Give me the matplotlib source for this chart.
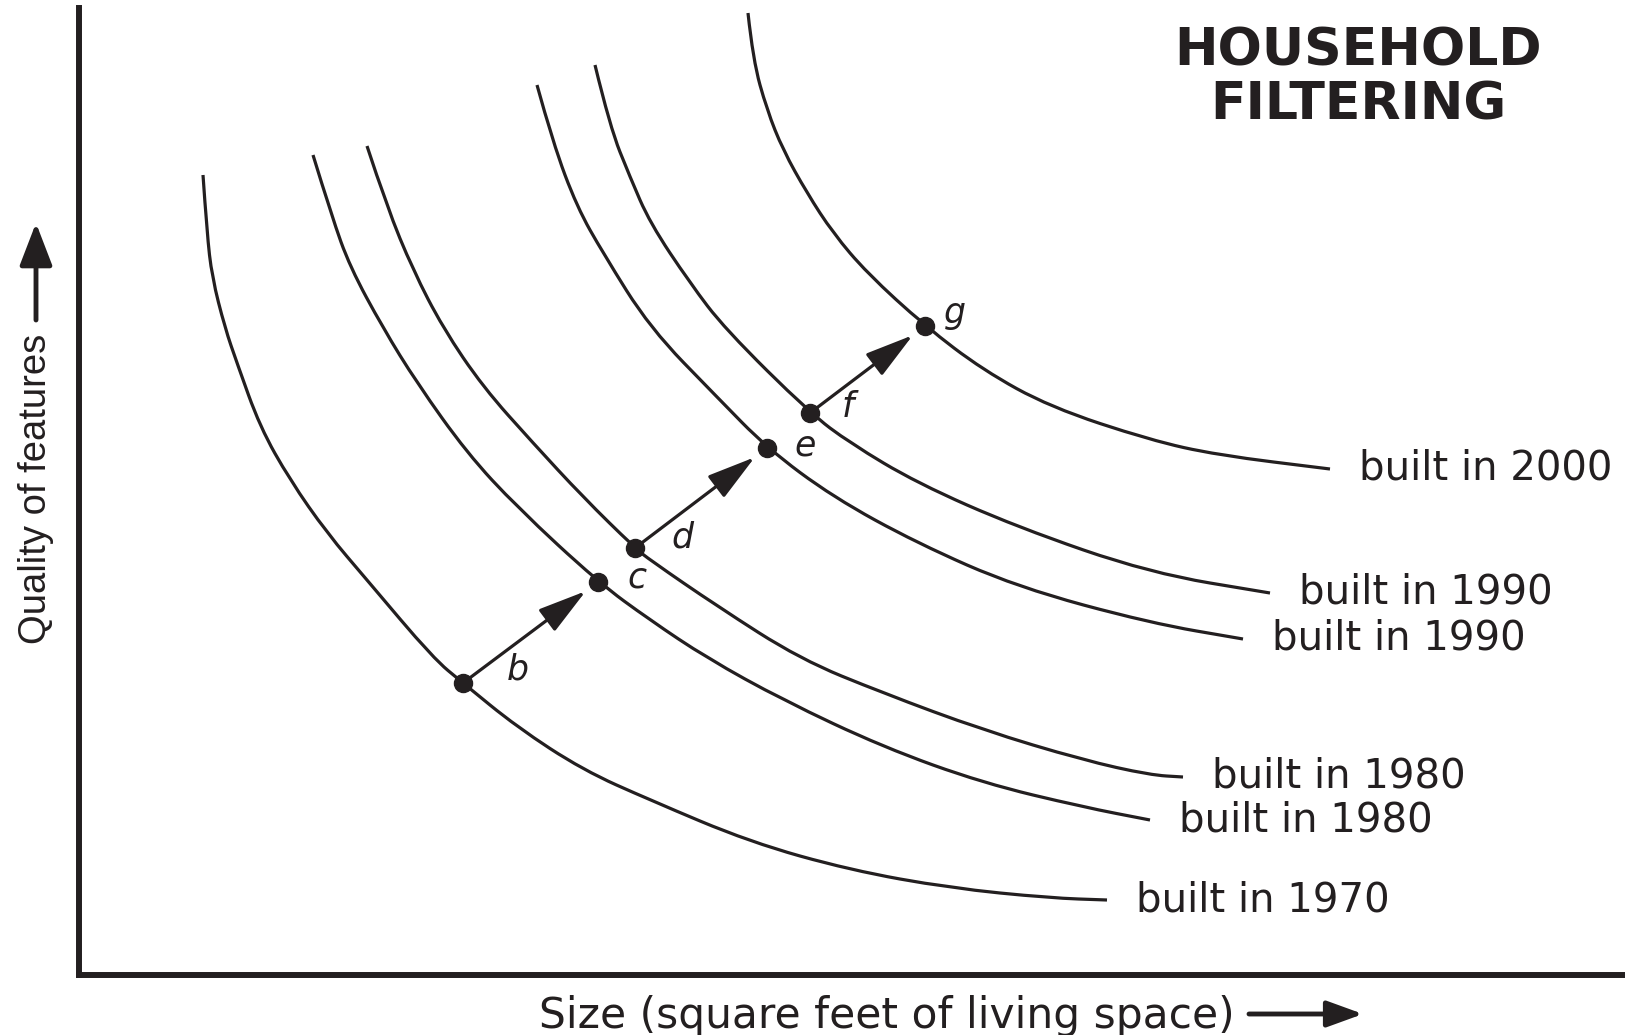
import matplotlib
matplotlib.use("Agg")
import matplotlib.pyplot as plt
from matplotlib.path import Path
from matplotlib.patches import PathPatch

# data units: size (x) and quality (y) on an arbitrary schematic scale
curve_labels = ["built in 1970", "built in 1980", "built in 1980",
                "built in 1990", "built in 1990", "built in 2000"]

size_1970 = [124, 128, 133, 146, 158, 181, 211, 248, 288, 354, 384, 438,
             504, 571, 671, 771, 871, 971, 1028]
quality_1970 = [800, 742, 698, 647, 612, 548, 495, 442, 395, 317, 292, 248,
                205, 175, 133, 105, 87, 77, 75]

size_1980a = [234, 253, 271, 304, 338, 388, 438, 519, 571, 628, 704, 804,
              904, 1004, 1071]
quality_1980a = [820, 758, 708, 647, 592, 522, 468, 393, 355, 317, 275, 228,
                 192, 168, 155]

size_1980b = [288, 308, 334, 364, 404, 454, 504, 556, 571, 638, 721, 804,
              904, 1004, 1071, 1104]
quality_1980b = [829, 768, 705, 647, 588, 532, 478, 427, 415, 369, 316, 282,
                 245, 215, 200, 198]

size_1990a = [458, 474, 498, 524, 571, 638, 688, 754, 838, 938, 1071, 1164]
quality_1990a = [890, 832, 768, 722, 647, 578, 527, 478, 432, 388, 352, 336]

size_1990b = [516, 531, 551, 571, 611, 646, 731, 771, 838, 938, 1071, 1191]
quality_1990b = [910, 848, 798, 752, 692, 646, 562, 532, 492, 448, 402, 382]

size_2000 = [669, 674, 688, 704, 728, 754, 788, 846, 904, 971, 1071, 1138, 1251]
quality_2000 = [962, 915, 865, 825, 782, 742, 702, 649, 605, 568, 535, 520, 506]

curves_x = [size_1970, size_1980a, size_1980b, size_1990a, size_1990b, size_2000]
curves_y = [quality_1970, quality_1980a, quality_1980b, quality_1990a,
            quality_1990b, quality_2000]

point_names = ["b", "c", "d", "e", "f", "g"]
point_size = [384, 519, 556, 688, 731, 846]
point_quality = [292, 393, 427, 527, 562, 649]
moves = [("b", "c"), ("d", "e"), ("f", "g")]

INK = "#231f20"


def smooth_path(xs, ys):
    # quadratic bezier through midpoints, so the read points are not drawn as kinks
    pts = list(zip(xs, ys))
    verts = [pts[0]]
    codes = [Path.MOVETO]
    for i in range(1, len(pts) - 1):
        mid = ((pts[i][0] + pts[i + 1][0]) / 2, (pts[i][1] + pts[i + 1][1]) / 2)
        verts += [pts[i], mid]
        codes += [Path.CURVE3, Path.CURVE3]
    verts.append(pts[-1])
    codes.append(Path.LINETO)
    return Path(verts, codes)


fig = plt.figure(figsize=(16.25, 10.35), dpi=100)
ax = fig.add_axes([79 / 1625, 60 / 1035, 1546 / 1625, 967 / 1035])
ax.set_xlim(0, 1546)
ax.set_ylim(0, 967)
ax.set_xticks([])
ax.set_yticks([])
for side in ["top", "right"]:
    ax.spines[side].set_visible(False)
for side in ["left", "bottom"]:
    ax.spines[side].set_linewidth(4.3)
    ax.spines[side].set_color(INK)

for xs, ys, lab in zip(curves_x, curves_y, curve_labels):
    ax.add_patch(PathPatch(smooth_path(xs, ys), facecolor="none", edgecolor=INK,
                           lw=2.3, capstyle="butt", clip_on=False))
    ax.annotate(lab, xy=(xs[-1], ys[-1]), xytext=(29, 0),
                textcoords="offset pixels", ha="left", va="center",
                fontsize=29, color=INK, family="DejaVu Sans")

pos = dict(zip(point_names, zip(point_size, point_quality)))
for a, b in moves:
    ax.annotate("", xy=pos[b], xytext=pos[a],
                arrowprops=dict(arrowstyle="-|>,head_length=1.5,head_width=0.42",
                                mutation_scale=20, lw=2.3, color=INK,
                                shrinkA=0, shrinkB=11))
ax.plot(point_size, point_quality, "o", ms=13, color=INK, zorder=5)

# letter labels sit to the right of each dot (offset in pixels)
label_offsets = {"b": (55, 13), "c": (39, 4), "d": (47, 10),
                 "e": (38, 2), "f": (38, 6), "g": (30, 13)}
for name, x, y in zip(point_names, point_size, point_quality):
    ax.annotate(name, xy=(x, y), xytext=label_offsets[name],
                textcoords="offset pixels", ha="center", va="center",
                fontsize=25, style="italic", color=INK, family="DejaVu Sans")

# title
fig.text(1358 / 1625, 1 - 51 / 1035, "HOUSEHOLD", ha="center", va="center",
         fontsize=37.5, fontweight="bold", color=INK, family="DejaVu Sans")
fig.text(1358 / 1625, 1 - 106 / 1035, "FILTERING", ha="center", va="center",
         fontsize=37.5, fontweight="bold", color=INK, family="DejaVu Sans")

# axis labels with arrows
fig.text(539 / 1625, 1 - 1028 / 1035, "Size (square feet of living space)",
         ha="left", va="baseline", fontsize=30.5, color=INK, family="DejaVu Sans")
ax.annotate("", xy=(1363 / 1625, 1 - 1014 / 1035), xytext=(1249 / 1625, 1 - 1014 / 1035),
            xycoords="figure fraction", textcoords="figure fraction",
            annotation_clip=False,
            arrowprops=dict(arrowstyle="-|>,head_length=1.1,head_width=0.4",
                            mutation_scale=20, lw=3.5, color=INK,
                            shrinkA=0, shrinkB=0))

fig.text(36 / 1625, 1 - 489 / 1035, "Quality of features", rotation=90,
         ha="center", va="center", fontsize=27.5, color=INK,
         family="Liberation Sans")
ax.annotate("", xy=(36 / 1625, 1 - 223 / 1035), xytext=(36 / 1625, 1 - 320 / 1035),
            xycoords="figure fraction", textcoords="figure fraction",
            annotation_clip=False,
            arrowprops=dict(arrowstyle="-|>,head_length=1.3,head_width=0.5",
                            mutation_scale=20, lw=3.5, color=INK,
                            shrinkA=0, shrinkB=0))

fig.savefig("out.png", dpi=100, facecolor="white")
